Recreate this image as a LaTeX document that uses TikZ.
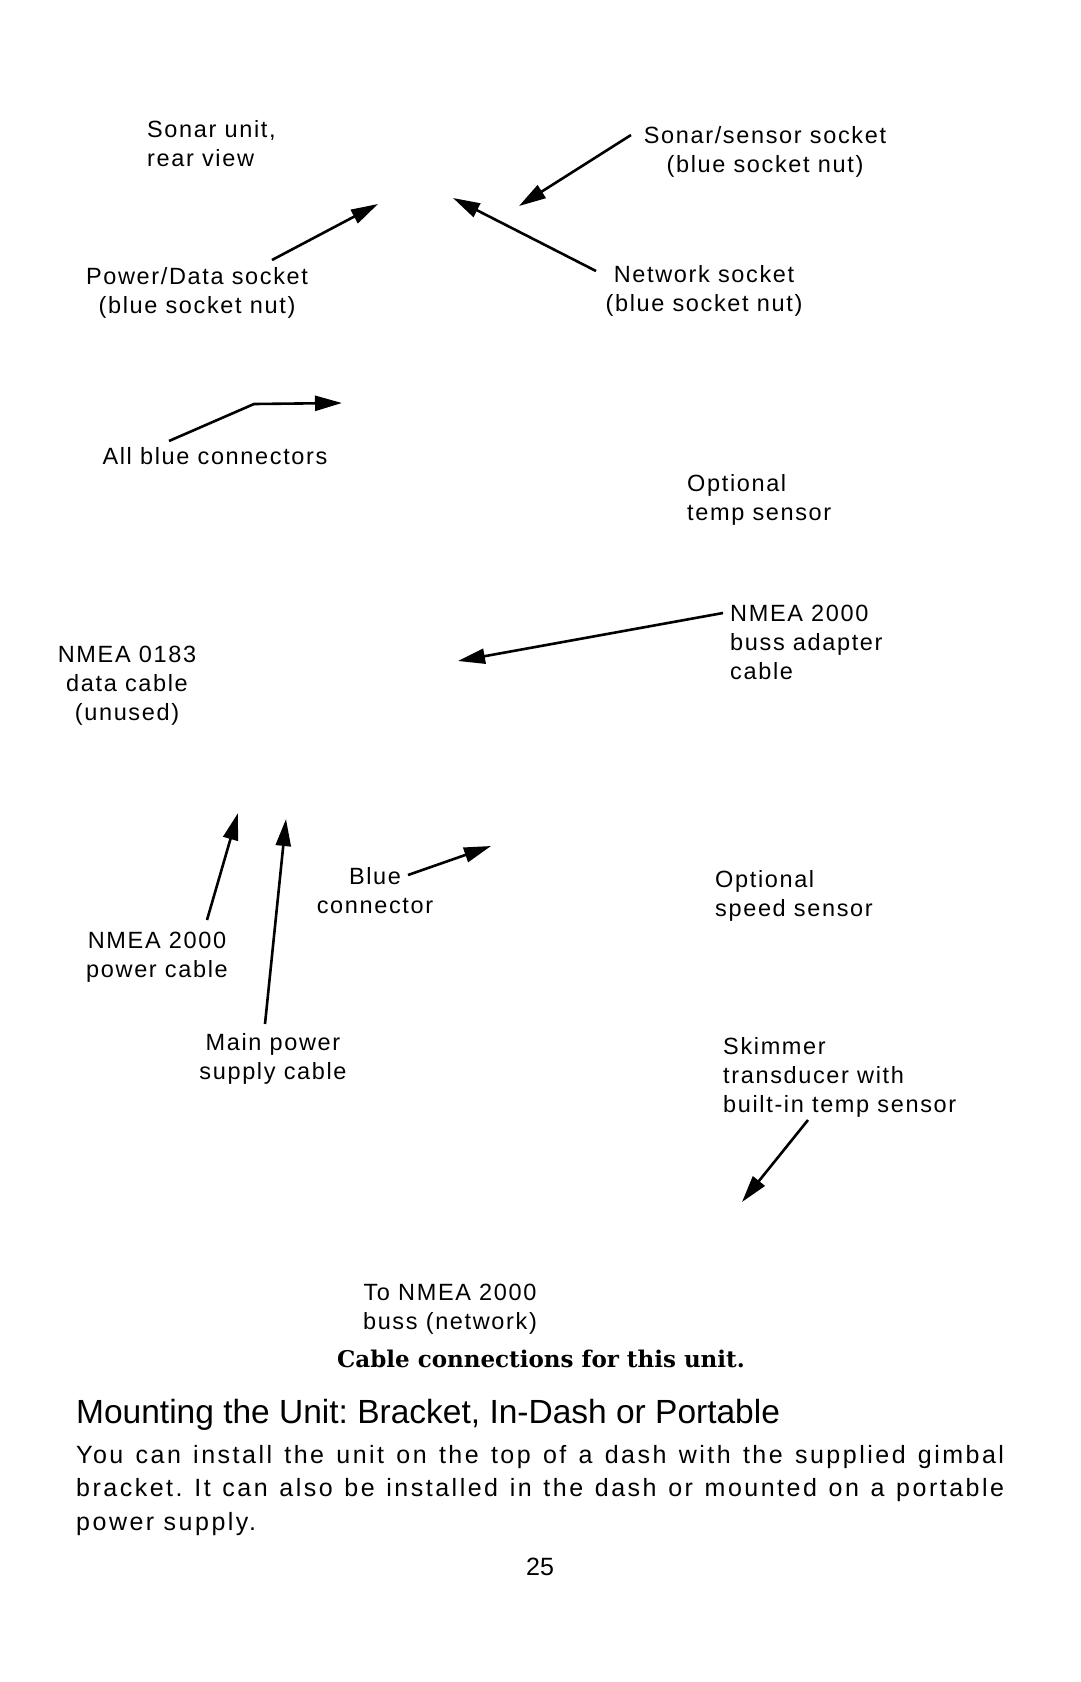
\documentclass[tikz,border=0pt]{standalone}
\usepackage{fontspec}
\usetikzlibrary{arrows.meta}
\newfontfamily\labfont[LetterSpace=7]{Liberation Sans}
\newfontfamily\headfont{Liberation Sans}
\newfontfamily\bodyfont[LetterSpace=10]{Liberation Sans}
\newfontfamily\capfont{DejaVu Serif}
\frenchspacing
\begin{document}
\begin{tikzpicture}[x=1pt,y=-1pt,
  lbl/.style={font=\labfont\fontsize{23.5}{29}\selectfont, inner sep=0pt, align=center, anchor=north},
  lbll/.style={lbl, align=left, anchor=north west},
  arr/.style={line width=2.6pt, -{Triangle[length=27pt,width=15pt]}}]
\useasboundingbox (0,0) rectangle (1080,1682);
% labels
\node[lbll] (sonar) at (147,120.5) {Sonar unit,\\rear view};
\node[lbl] (ss) at (765,126.5) {Sonar/sensor socket\\(blue socket nut)};
\node[lbl] (pd) at (197,267.5) {Power/Data socket\\(blue socket nut)};
\node[lbl] (net) at (704,265.5) {Network socket\\(blue socket nut)};
\node[lbl] (allblue) at (215,447.5) {All blue connectors};
\node[lbll] (opttemp) at (687,474.5) {Optional\\temp sensor};
\node[lbll] (adapter) at (730,605) {NMEA 2000\\buss adapter\\cable};
\node[lbl] (n0183) at (127,646) {NMEA 0183\\data cable\\(unused)};
\node[lbl] (blue) at (375,867.5) {Blue\\connector};
\node[lbll] (optspeed) at (715,870.5) {Optional\\speed sensor};
\node[lbl] (n2kpow) at (157,932) {NMEA 2000\\power cable};
\node[lbl] (mainpow) at (273,1033.5) {Main power\\supply cable};
\node[lbll] (skim) at (723,1037) {Skimmer\\transducer with\\built-in temp sensor};
\node[lbl] (tonmea) at (450,1284) {To NMEA 2000\\buss (network)};
% caption, heading, body
\node[inner sep=0pt, anchor=base] (cap) at (541,1367) {\capfont\bfseries\fontsize{23}{27}\selectfont Cable connections for this unit.};
\node[inner sep=0pt, anchor=base west, font=\headfont\fontsize{33.5}{40}\selectfont] (head) at (76,1423) {Mounting the Unit: Bracket, In-Dash or Portable};
\node[inner sep=0pt, anchor=base west, font=\bodyfont\fontsize{25}{33.5}\selectfont] (body) at (76,1463)
 {\parbox[t]{928pt}{\frenchspacing You can install the unit on the top of a dash with the supplied gimbal\linebreak
 bracket. It can also be installed in the dash or mounted on a portable\linebreak
 power supply.}};
\node[inner sep=0pt, anchor=base, font=\headfont\fontsize{25}{30}\selectfont] (page) at (540,1575) {25};
% arrow coordinates
\coordinate (ssT) at (631,135);   \coordinate (ssH) at (519,206);
\coordinate (pdT) at (272,260);   \coordinate (pdH) at (378,204);
\coordinate (netT) at (596,271);  \coordinate (netH) at (453,198);
\coordinate (abT) at (169,441);   \coordinate (abM) at (254,404); \coordinate (abH) at (342,403);
\coordinate (adT) at (723,613);   \coordinate (adH) at (458,661);
\coordinate (npT) at (207,920);   \coordinate (npH) at (238,813);
\coordinate (mpT) at (265,1024);  \coordinate (mpH) at (286,819);
\coordinate (blT) at (408,875);   \coordinate (blH) at (491,846);
\coordinate (skT) at (808,1120);  \coordinate (skH) at (742,1202);
\draw[arr] (ssT) -- (ssH);
\draw[arr] (pdT) -- (pdH);
\draw[arr] (netT) -- (netH);
\draw[arr] (abT) -- (abM) -- (abH);
\draw[arr] (adT) -- (adH);
\draw[arr] (npT) -- (npH);
\draw[arr] (mpT) -- (mpH);
\draw[arr] (blT) -- (blH);
\draw[arr] (skT) -- (skH);
\end{tikzpicture}
\end{document}
